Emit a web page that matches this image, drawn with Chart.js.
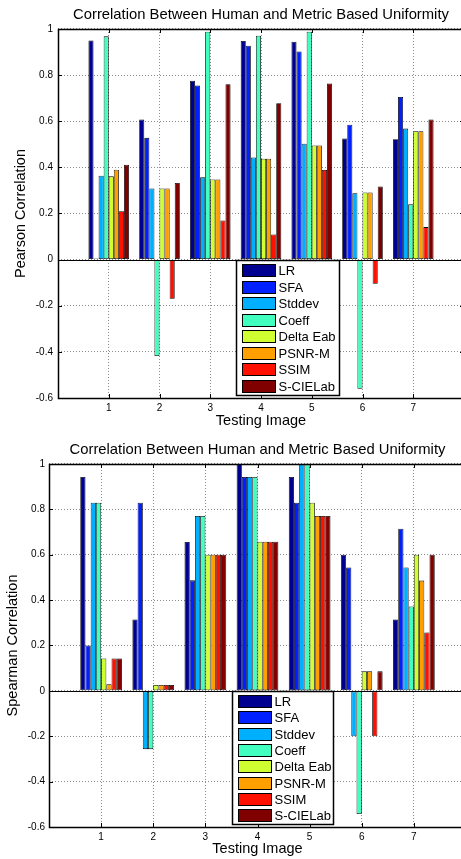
<!DOCTYPE html>
<html>
<head>
<meta charset="utf-8">
<script src="https://cdn.jsdelivr.net/npm/chart.js@4.4.0/dist/chart.umd.min.js"></script>
<style>
  html, body { margin: 0; padding: 0; background: #fff; overflow: hidden; }
  canvas { display: block; }
</style>
</head>
<body>
<canvas id="pearsonChart" width="470" height="432"></canvas>
<canvas id="spearmanChart" width="470" height="427"></canvas>
<script>
// testing images 1..7
var categories = ['1', '2', '3', '4', '5', '6', '7'];
var seriesNames = ['LR', 'SFA', 'Stddev', 'Coeff', 'Delta Eab', 'PSNR-M', 'SSIM', 'S-CIELab'];
var seriesColors = ['#000090', '#0020ff', '#00b0ff', '#40ffbf', '#cfff30', '#ffa000', '#ff1000', '#800000'];
var yTicks = [-0.6, -0.4, -0.2, 0, 0.2, 0.4, 0.6, 0.8, 1];

// Pearson correlation
var pearsonLR      = [0.95, 0.607, 0.776, 0.948, 0.945, 0.525, 0.522];
var pearsonSFA     = [0.005, 0.528, 0.755, 0.927, 0.902, 0.585, 0.705];
var pearsonStddev  = [0.364, 0.308, 0.357, 0.443, 0.502, 0.288, 0.568];
var pearsonCoeff   = [0.968, -0.418, 0.988, 0.971, 0.988, -0.56, 0.24];
var pearsonDelta   = [0.361, 0.308, 0.347, 0.437, 0.495, 0.291, 0.557];
var pearsonPSNR    = [0.39, 0.308, 0.347, 0.437, 0.495, 0.291, 0.557];
var pearsonSSIM    = [0.21, -0.17, 0.17, 0.109, 0.389, -0.105, 0.141];
var pearsonSCIELab = [0.411, 0.332, 0.76, 0.678, 0.764, 0.317, 0.607];

// Spearman correlation
var spearmanLR      = [0.943, 0.315, 0.656, 1.0, 0.943, 0.6, 0.315];
var spearmanSFA     = [0.2, 0.829, 0.487, 0.943, 0.829, 0.544, 0.715];
var spearmanStddev  = [0.829, -0.257, 0.771, 0.943, 1.0, -0.2, 0.544];
var spearmanCoeff   = [0.829, -0.257, 0.771, 0.943, 1.0, -0.543, 0.372];
var spearmanDelta   = [0.143, 0.026, 0.6, 0.657, 0.829, 0.086, 0.6];
var spearmanPSNR    = [0.029, 0.026, 0.6, 0.657, 0.771, 0.086, 0.486];
var spearmanSSIM    = [0.143, 0.026, 0.6, 0.657, 0.771, -0.2, 0.257];
var spearmanSCIELab = [0.143, 0.026, 0.6, 0.657, 0.771, 0.086, 0.6];

var FONT = '"Liberation Sans", Arial, Helvetica, sans-serif';

// matlab style box, zero line, inner tick marks and the legend inside the axes
var matlabAxes = {
  id: 'matlabAxes',
  afterDatasetsDraw: function(chart, args, opts) {
    var ctx = chart.ctx, a = chart.chartArea;
    var xs = chart.scales.x, ys = chart.scales.y;
    ctx.save();
    ctx.strokeStyle = '#000';
    ctx.lineWidth = 1;

    var y0 = Math.round(ys.getPixelForValue(0)) + 0.5;
    ctx.beginPath();
    ctx.moveTo(a.left, y0);
    ctx.lineTo(a.right, y0);
    ctx.stroke();

    ctx.beginPath();
    ys.ticks.forEach(function(t, i) {
      var py = Math.round(ys.getPixelForTick(i)) + 0.5;
      ctx.moveTo(a.left, py); ctx.lineTo(a.left + 4, py);
      ctx.moveTo(a.right, py); ctx.lineTo(a.right - 4, py);
    });
    xs.ticks.forEach(function(t, i) {
      if (!chart.data.labels[i]) return;
      var px = Math.round(xs.getPixelForTick(i)) + 0.5;
      ctx.moveTo(px, a.bottom); ctx.lineTo(px, a.bottom - 4);
      ctx.moveTo(px, a.top); ctx.lineTo(px, a.top + 4);
    });
    ctx.stroke();

    ctx.lineWidth = 1.5;
    ctx.strokeRect(Math.round(a.left) + 0.5, Math.round(a.top) + 0.5, Math.round(a.width), Math.round(a.height));

    // legend
    var lx = Math.round(a.left + opts.left) + 0.5;
    var ly = Math.round(a.bottom - opts.bottom - opts.height) + 0.5;
    ctx.fillStyle = '#fff';
    ctx.fillRect(lx, ly, opts.width, opts.height);
    ctx.lineWidth = 1.5;
    ctx.strokeRect(lx, ly, opts.width, opts.height);
    ctx.font = '13px ' + FONT;
    ctx.textBaseline = 'middle';
    ctx.lineWidth = 1;
    chart.data.datasets.forEach(function(ds, i) {
      var py = Math.round(ly + 3.5 + i * opts.pitch);
      ctx.fillStyle = ds.backgroundColor;
      ctx.fillRect(lx + 6, py, 33, 12);
      ctx.strokeStyle = '#000';
      ctx.strokeRect(lx + 6, py + 0.5, 33, 12);
      ctx.fillStyle = '#000';
      ctx.fillText(ds.label, lx + opts.textX, py + 7);
    });
    ctx.restore();
  }
};

function makeChart(id, series, yTitle, geo) {
  var labels = [''].concat(categories, ['']);
  var datasets = series.map(function(values, i) {
    return {
      label: seriesNames[i],
      data: [null].concat(values, [null]),
      backgroundColor: seriesColors[i],
      borderColor: '#000',
      borderWidth: 0.8,
      borderSkipped: false,
      categoryPercentage: 0.8,
      barPercentage: 1.0
    };
  });

  return new Chart(document.getElementById(id), {
    type: 'bar',
    data: { labels: labels, datasets: datasets },
    options: {
      responsive: false,
      animation: false,
      layout: { padding: { left: 0, right: geo.right, top: 0, bottom: 0 } },
      plugins: {
        legend: { display: false },
        tooltip: { enabled: false },
        title: {
          display: true,
          fullSize: false,
          text: 'Correlation Between Human and Metric Based Uniformity',
          color: '#000',
          font: { family: FONT, size: 14.8, weight: 'normal' },
          padding: { top: geo.titleTop, bottom: geo.titleBottom }
        },
        matlabAxes: geo.legend
      },
      scales: {
        x: {
          offset: false,
          border: { display: false, dash: [1, 2] },
          grid: {
            offset: false,
            drawTicks: false,
            color: function(c) { return (c.index === 0 || c.index === labels.length - 1) ? 'rgba(0,0,0,0)' : '#8a8a8a'; }
          },
          ticks: { color: '#000', padding: 4, maxRotation: 0, autoSkip: false, font: { family: FONT, size: 10 } },
          title: {
            display: true,
            text: 'Testing Image',
            color: '#000',
            font: { family: FONT, size: 14.5 },
            padding: { top: 0, bottom: geo.xTitleBottom }
          },
          afterFit: function(scale) { scale.height = geo.xHeight; }
        },
        y: {
          min: -0.6,
          max: 1,
          border: { display: false, dash: [1, 2] },
          afterBuildTicks: function(scale) {
            scale.ticks = yTicks.map(function(v) { return { value: v }; });
          },
          grid: {
            drawTicks: false,
            color: '#8a8a8a'
          },
          ticks: {
            color: '#000',
            padding: geo.yPad,
            font: { family: FONT, size: 10 },
            callback: function(v) { return String(Number(v.toFixed(1))); }
          },
          title: {
            display: true,
            text: yTitle,
            color: '#000',
            font: { family: FONT, size: 14.5 },
            padding: { top: geo.yTitleTop, bottom: 0 }
          },
          afterFit: function(scale) { scale.width = geo.yWidth; }
        }
      }
    },
    plugins: [matlabAxes]
  });
}

makeChart('pearsonChart',
  [pearsonLR, pearsonSFA, pearsonStddev, pearsonCoeff, pearsonDelta, pearsonPSNR, pearsonSSIM, pearsonSCIELab],
  'Pearson Correlation',
  {
    right: 6, titleTop: 6, titleBottom: 5.2, xHeight: 34, xTitleBottom: 2,
    yWidth: 58, yPad: 5, yTitleTop: 12,
    legend: { left: 178, bottom: 3, width: 103, height: 135, pitch: 16.5, textX: 42 }
  });

makeChart('spearmanChart',
  [spearmanLR, spearmanSFA, spearmanStddev, spearmanCoeff, spearmanDelta, spearmanPSNR, spearmanSSIM, spearmanSCIELab],
  'Spearman Correlation',
  {
    right: 3, titleTop: 8.6, titleBottom: 5.6, xHeight: 32, xTitleBottom: 1,
    yWidth: 49, yPad: 4, yTitleTop: 4,
    legend: { left: 183, bottom: 3, width: 101, height: 133, pitch: 16.3, textX: 42 }
  });
</script>
</body>
</html>
